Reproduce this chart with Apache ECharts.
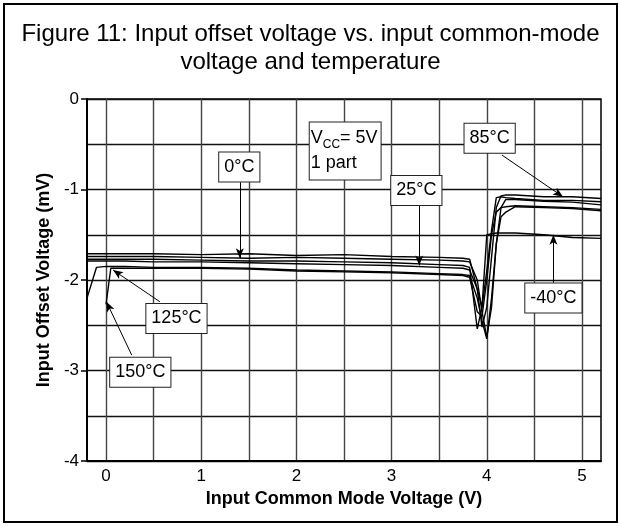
<!DOCTYPE html>
<html>
<head>
<meta charset="utf-8">
<script src="https://cdn.jsdelivr.net/npm/echarts@6.0.0/dist/echarts.min.js"></script>
<style>
html,body{margin:0;padding:0;background:#fff;}
#chart{width:621px;height:526px;}
</style>
</head>
<body>
<div id="chart"></div>
<script>
// input common mode voltage (V)
const vcm  = [-0.2, -0.1, 0, 0.05, 0.2, 0.5, 1.0, 1.5, 2.0, 2.5, 3.0, 3.5, 3.75, 3.82, 3.9, 3.95, 4.0, 4.05, 4.1, 4.15, 4.2, 4.3, 4.6, 4.9, 5.2];
// offset voltage (mV) per temperature
const t85  = [-1.71, -1.71, -1.71, -1.71, -1.71, -1.71, -1.72, -1.71, -1.73, -1.72, -1.74, -1.75, -1.76, -1.77, -2.10, -2.52, -2.30, -1.75, -1.20, -1.07, -1.06, -1.06, -1.08, -1.08, -1.10];
const t0   = [-1.74, -1.74, -1.74, -1.74, -1.74, -1.74, -1.75, -1.76, -1.75, -1.76, -1.77, -1.78, -1.79, -1.80, -2.00, -2.35, -2.63, -2.30, -1.60, -1.20, -1.11, -1.11, -1.13, -1.14, -1.17];
const t25  = [-1.77, -1.77, -1.77, -1.77, -1.77, -1.77, -1.78, -1.79, -1.79, -1.80, -1.81, -1.83, -1.84, -1.86, -2.54, -2.30, -1.90, -1.45, -1.09, -1.08, -1.09, -1.10, -1.12, -1.12, -1.135];
const tm40 = [-1.79, -1.79, -1.79, -1.79, -1.79, -1.80, -1.80, -1.81, -1.82, -1.83, -1.84, -1.86, -1.87, -1.89, -2.10, -2.30, -1.50, -1.49, -1.48, -1.48, -1.48, -1.48, -1.50, -1.53, -1.54];
const t125 = [-2.20, -1.86, -1.85, -1.85, -1.85, -1.86, -1.86, -1.87, -1.89, -1.90, -1.91, -1.93, -1.94, -1.95, -2.20, -2.45, -2.65, -2.20, -1.60, -1.30, -1.25, -1.19, -1.20, -1.21, -1.235];
const t150 = [null, null, -2.27, -1.87, -1.87, -1.87, -1.87, -1.88, -1.90, -1.91, -1.92, -1.94, -1.95, -1.97, -2.35, -2.40, -2.00, -1.50, -1.25, -1.20, -1.19, -1.18, -1.19, -1.20, -1.22];

const curves = [t85, t0, t25, tm40, t125, t150];
const curveNames = ['85°C', '0°C', '25°C', '-40°C', '125°C', '150°C'];

const xGrid = [0, 0.5, 1, 1.5, 2, 2.5, 3, 3.5, 4, 4.5, 5];
const xLabels = [0, 1, 2, 3, 4, 5];

// call-outs: text, box centre, arrow start, arrow tip (data coords)
const noteText = ['0°C', '25°C', '85°C', '-40°C', '125°C', '150°C'];
const noteBox  = [[1.40, -0.75], [3.26, -1.01], [4.03, -0.435], [4.70, -2.20], [0.74, -2.425], [0.36, -3.02]];
const noteFrom = [[1.405, -0.92], [3.29, -1.17], [4.16, -0.62], [4.70, -2.03], [0.565, -2.24], [0.27, -2.83]];
const noteTo   = [[1.405, -1.76], [3.29, -1.84], [4.80, -1.08], [4.70, -1.50], [0.074, -1.89], [0.004, -2.24]];
const vccCorner = [2.14, -0.26];   // top-left of the conditions box

const chart = echarts.init(document.getElementById('chart'));
const font = 'Liberation Sans, Arial, sans-serif';

const series = curves.map((ys, i) => ({
    name: curveNames[i],
    type: 'line',
    showSymbol: false,
    data: vcm.map((x, k) => ys[k] == null ? [x, null] : [x, ys[k]]),
    lineStyle: {color: '#000', width: 1.4},
    itemStyle: {color: '#000'},
    z: 3
}));
series.push({
    type: 'line',
    data: [],
    markLine: {
        silent: true,
        symbol: ['none', 'arrow'],
        symbolSize: [6, 10],
        label: {show: false},
        lineStyle: {color: '#000', width: 1, type: 'solid'},
        data: noteFrom.map((p, i) => [{coord: p}, {coord: noteTo[i]}])
    },
    z: 4
});

chart.setOption({
    animation: false,
    title: {
        text: 'Figure 11: Input offset voltage vs. input common-mode\nvoltage and temperature',
        left: 'center',
        top: 15,
        textStyle: {fontFamily: font, fontSize: 24, fontWeight: 'normal', lineHeight: 28, color: '#000'}
    },
    grid: {left: 87, top: 99, right: 20, bottom: 65, show: true, borderColor: '#000', borderWidth: 1.5},
    xAxis: {
        type: 'value',
        min: -0.2,
        max: 5.2,
        name: 'Input Common Mode Voltage (V)',
        nameLocation: 'middle',
        nameGap: 28,
        nameTextStyle: {fontFamily: font, fontSize: 18, fontWeight: 'bold', color: '#000'},
        axisLine: {onZero: false, lineStyle: {color: '#000', width: 2}},
        axisTick: {show: false, customValues: xGrid},
        axisLabel: {customValues: xLabels, fontFamily: font, fontSize: 17, color: '#000', margin: 7},
        splitLine: {show: true, lineStyle: {color: '#444', width: 1.4}}
    },
    yAxis: {
        type: 'value',
        min: -4,
        max: 0,
        interval: 1,
        name: 'Input Offset Voltage (mV)',
        nameLocation: 'middle',
        nameGap: 32,
        nameTextStyle: {fontFamily: font, fontSize: 18, fontWeight: 'bold', color: '#000'},
        axisLine: {show: true, onZero: false, lineStyle: {color: '#000', width: 2}},
        axisTick: {show: true, length: 6, lineStyle: {color: '#000', width: 1.5}},
        axisLabel: {fontFamily: font, fontSize: 17, color: '#000', margin: 8},
        splitLine: {show: true, lineStyle: {color: '#111', width: 1.4}},
        minorTick: {show: false, splitNumber: 2},
        minorSplitLine: {show: true, lineStyle: {color: '#111', width: 1.4}}
    },
    series: series
});

// boxes for the call-outs, placed through the chart's own scales
const boxStyle = {
    fill: '#000',
    font: '18px ' + font,
    backgroundColor: '#fff',
    borderColor: '#222',
    borderWidth: 1,
    padding: [6, 5, 5, 5],
    align: 'center',
    verticalAlign: 'middle'
};
const graphics = noteText.map((t, i) => {
    const p = chart.convertToPixel({gridIndex: 0}, noteBox[i]);
    return {type: 'text', x: p[0], y: p[1], z: 10, style: Object.assign({text: t}, boxStyle)};
});
const vp = chart.convertToPixel({gridIndex: 0}, vccCorner);
graphics.push({
    type: 'text', x: vp[0], y: vp[1], z: 10,
    style: {
        text: '{t|V}{s|CC}{t|= 5V}\n{t|1 part}',
        rich: {
            t: {fontFamily: font, fontSize: 18, lineHeight: 25, fill: '#000'},
            s: {fontFamily: font, fontSize: 12, lineHeight: 12, fill: '#000', verticalAlign: 'bottom'}
        },
        backgroundColor: '#fff',
        borderColor: '#222',
        borderWidth: 1,
        padding: [3, 3, 4, 1],
        align: 'left',
        verticalAlign: 'top'
    }
});
graphics.push({
    type: 'rect',
    shape: {x: 4, y: 4, width: 613, height: 518},
    style: {fill: 'none', stroke: '#000', lineWidth: 2},
    z: 20
});
chart.setOption({graphic: graphics});
</script>
</body>
</html>
